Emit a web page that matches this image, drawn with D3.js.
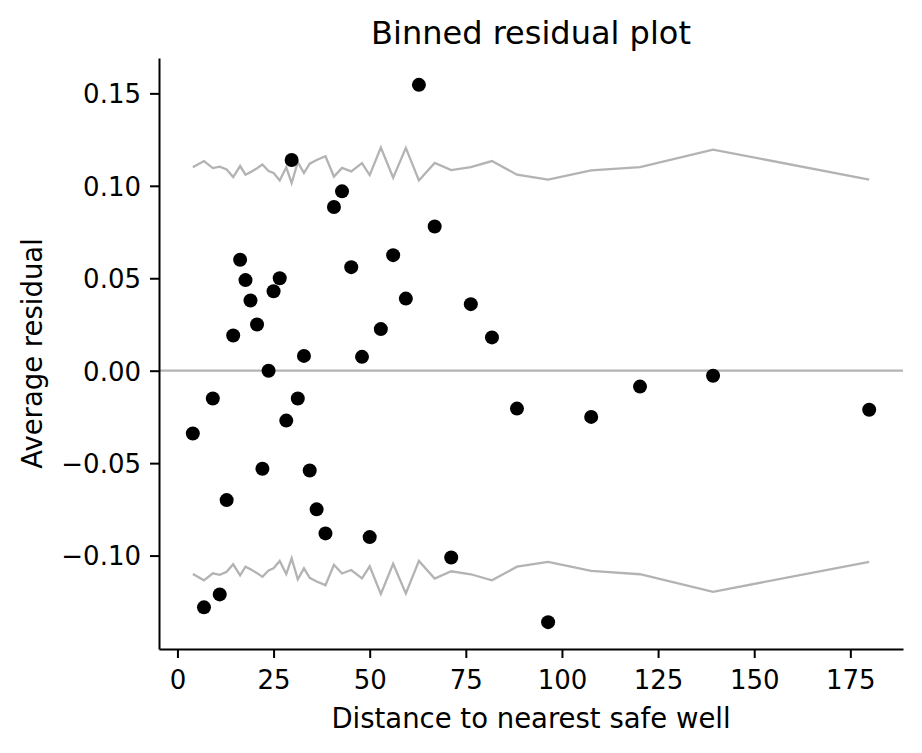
<!DOCTYPE html>
<html>
<head>
<meta charset="utf-8">
<script src="https://cdn.jsdelivr.net/npm/d3@7"></script>
<style>
  body { margin: 0; background: #fff; }
  svg { display: block; font-family: "DejaVu Sans", sans-serif; }
  .tick text { font-size: 26px; fill: #000; }
</style>
</head>
<body>
<div id="chart"></div>
<script>
// средние по бинам: расстояние, средний остаток, граница 2*se
var binDist = [4.0, 6.9, 9.2, 11.0, 12.8, 14.5, 16.3, 17.7, 19.0, 20.7,
               22.1, 23.7, 25.0, 26.6, 28.3, 29.7, 31.3, 32.9, 34.4, 36.2,
               38.5, 40.7, 42.8, 45.2, 48.0, 50.0, 52.9, 56.1, 59.4, 62.8,
               66.9, 71.2, 76.3, 81.8, 88.3, 96.4, 107.6, 120.3, 139.3, 179.9];
var binResid = [-0.034, -0.128, -0.015, -0.121, -0.070, 0.019, 0.060, 0.049, 0.038, 0.025,
                -0.053, 0.000, 0.043, 0.050, -0.027, 0.114, -0.015, 0.008, -0.054, -0.075,
                -0.088, 0.0885, 0.097, 0.056, 0.0075, -0.090, 0.0225, 0.0625, 0.039, 0.1546,
                0.078, -0.101, 0.036, 0.018, -0.0205, -0.136, -0.025, -0.0086, -0.0027, -0.0211];
var binBound = [0.110, 0.1134, 0.1096, 0.1104, 0.1088, 0.1047, 0.1107, 0.106, 0.1074, 0.1095,
                0.1115, 0.108, 0.1069, 0.1029, 0.110, 0.1015, 0.1128, 0.1069, 0.112, 0.114,
                0.116, 0.105, 0.1097, 0.1078, 0.1123, 0.1058, 0.1207, 0.1044, 0.1205, 0.1029,
                0.1124, 0.1085, 0.1101, 0.1134, 0.106, 0.1034, 0.1083, 0.1101, 0.1196, 0.1034];
var xTicks = [0, 25, 50, 75, 100, 125, 150, 175];
var yTicks = [-0.10, -0.05, 0.00, 0.05, 0.10, 0.15];

var width = 922, height = 753;
var margin = {left: 159, top: 58, right: 19, bottom: 104};

var data = binDist.map(function(d, i) {
    return {x: d, y: binResid[i], b: binBound[i]};
});

var svg = d3.select("#chart").append("svg")
    .attr("width", width)
    .attr("height", height);

// поля как в matplotlib: 5% с каждой стороны
function pad(ext) {
    var r = ext[1] - ext[0];
    return [ext[0] - 0.05 * r, ext[1] + 0.05 * r];
}
var xExt = d3.extent(binDist);
var yExt = [d3.min([d3.min(binResid), -d3.max(binBound)]), d3.max([d3.max(binResid), d3.max(binBound)])];

var xScale = d3.scaleLinear().domain(pad(xExt)).range([margin.left, width - margin.right]);
var yScale = d3.scaleLinear().domain(pad(yExt)).range([height - margin.bottom, margin.top]);

// нулевая линия
svg.append("line")
    .attr("x1", margin.left).attr("x2", width - margin.right)
    .attr("y1", yScale(0)).attr("y2", yScale(0))
    .attr("stroke", "#b3b3b3").attr("stroke-width", 2.3);

// границы ±2se
var upper = d3.line().x(d => xScale(d.x)).y(d => yScale(d.b));
var lower = d3.line().x(d => xScale(d.x)).y(d => yScale(-d.b));
[upper, lower].forEach(function(gen) {
    svg.append("path")
        .datum(data)
        .attr("d", gen)
        .attr("fill", "none")
        .attr("stroke", "#b3b3b3")
        .attr("stroke-width", 2.3)
        .attr("stroke-linejoin", "miter");
});

// точки
svg.selectAll("circle.pt")
    .data(data)
    .enter()
    .append("circle")
    .attr("class", "pt")
    .attr("cx", d => xScale(d.x))
    .attr("cy", d => yScale(d.y))
    .attr("r", 7)
    .attr("fill", "#000");

// оси
var xAxis = d3.axisBottom(xScale).tickValues(xTicks).tickFormat(d3.format("d"))
    .tickSizeInner(9).tickSizeOuter(0).tickPadding(9);
var yAxis = d3.axisLeft(yScale).tickValues(yTicks).tickFormat(d3.format(".2f"))
    .tickSizeInner(9).tickSizeOuter(0).tickPadding(9);

var gx = svg.append("g")
    .attr("transform", `translate(0, ${height - margin.bottom})`)
    .call(xAxis);
var gy = svg.append("g")
    .attr("transform", `translate(${margin.left}, 0)`)
    .call(yAxis);

[gx, gy].forEach(function(g) {
    g.select(".domain").attr("stroke", "#000").attr("stroke-width", 2);
    g.selectAll(".tick line").attr("stroke", "#000").attr("stroke-width", 2);
    g.attr("font-family", null).attr("font-size", null);
});
gx.selectAll(".tick text").attr("dy", null).attr("y", 40);
gy.selectAll(".tick text").attr("dy", "0.36em");

// подписи
svg.append("text")
    .attr("x", (margin.left + width - margin.right) / 2)
    .attr("y", 728)
    .attr("text-anchor", "middle")
    .attr("font-size", 27.5)
    .text("Distance to nearest safe well");

svg.append("text")
    .attr("transform", `translate(42, ${(margin.top + height - margin.bottom) / 2}) rotate(-90)`)
    .attr("text-anchor", "middle")
    .attr("font-size", 27.5)
    .text("Average residual");

svg.append("text")
    .attr("x", (margin.left + width - margin.right) / 2)
    .attr("y", 44)
    .attr("text-anchor", "middle")
    .attr("font-size", 32)
    .text("Binned residual plot");
</script>
</body>
</html>
